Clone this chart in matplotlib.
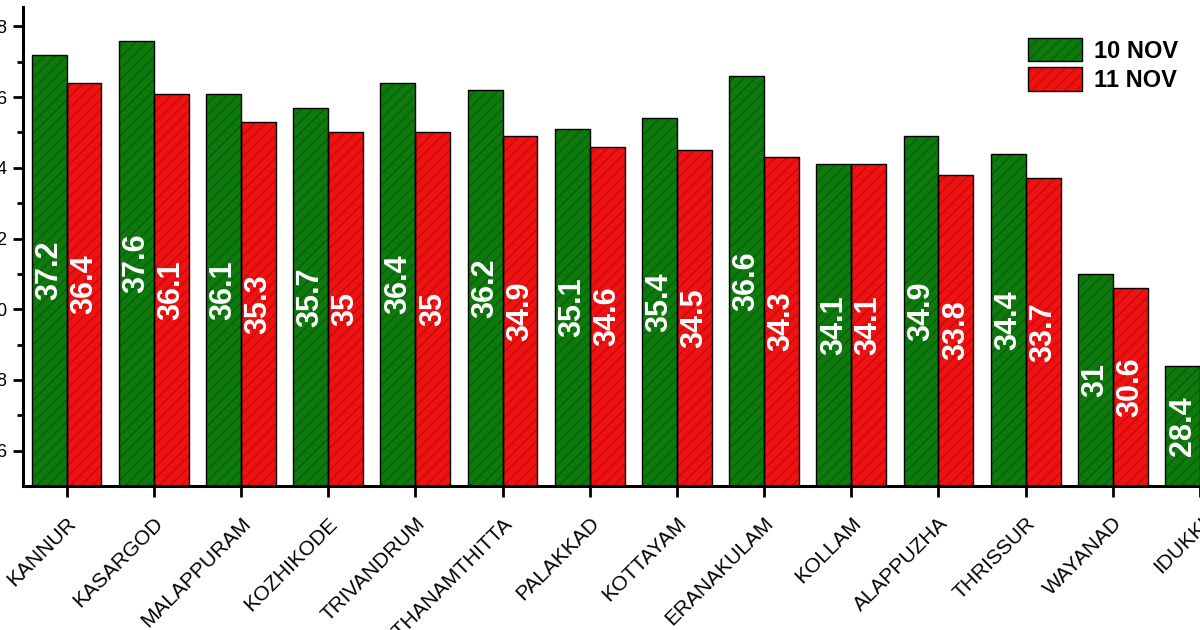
import numpy as np
import matplotlib
matplotlib.use("Agg")
import matplotlib.pyplot as plt
from matplotlib.legend_handler import HandlerTuple

districts = ["KANNUR", "KASARGOD", "MALAPPURAM", "KOZHIKODE", "TRIVANDRUM",
             "PATHANAMTHITTA", "PALAKKAD", "KOTTAYAM", "ERANAKULAM", "KOLLAM",
             "ALAPPUZHA", "THRISSUR", "WAYANAD", "IDUKKI"]
nov10 = [37.2, 37.6, 36.1, 35.7, 36.4, 36.2, 35.1, 35.4, 36.6, 34.1, 34.9, 34.4, 31.0, 28.4]
nov11 = [36.4, 36.1, 35.3, 35.0, 35.0, 34.9, 34.6, 34.5, 34.3, 34.1, 33.8, 33.7, 30.6, np.nan]
series_names = ["10 NOV", "11 NOV"]
yticks = [26, 28, 30, 32, 34, 36, 38]

plt.rcParams['font.family'] = ['Liberation Sans', 'DejaVu Sans']
plt.rcParams['hatch.linewidth'] = 1.0

green, green_h = "#0E7A0E", "#086008"
red, red_h = "#EE1212", "#C80A0A"

fig = plt.figure(figsize=(12, 6.3), dpi=100)
ax = fig.add_axes([23/1200, (630-486)/630, (1243.6-23)/1200, (486-7)/630])

x = np.arange(len(districts))
w = 0.4

def draw(xpos, vals, fc, hc):
    fill = ax.bar(xpos, vals, w, bottom=0, color=fc, edgecolor=hc, linewidth=0,
                  hatch='///', zorder=2)
    edge = ax.bar(xpos, vals, w, fill=False, edgecolor='black', linewidth=1.0, zorder=3)
    return fill, edge

ax.set_ylim(25, 38.55)
f1, e1 = draw(x - w/2, nov10, green, green_h)
f2, e2 = draw(x + w/2, nov11, red, red_h)

ymin = 25
for xs, vals in ((x - w/2, nov10), (x + w/2, nov11)):
    for xi, v in zip(xs, vals):
        if np.isnan(v):
            continue
        ax.text(xi, (ymin + v) / 2, f"{v:g}", rotation=90, ha='center', va='center',
                color='white', fontsize=22, fontweight='bold', zorder=4)

# bars start from axis bottom
for b in list(f1) + list(e1) + list(f2) + list(e2):
    h = b.get_height()
    b.set_y(ymin)
    b.set_height(h - ymin)

ax.set_xlim(-0.5, len(districts) - 0.5)
ax.set_xticks(x)
ax.set_xticklabels(districts, rotation=45, ha='right', va='top',
                   rotation_mode='anchor', fontsize=15)
ax.set_yticks(yticks)
ax.set_yticks([t + 1 for t in yticks[:-1]] , minor=True)
ax.tick_params(axis='y', labelsize=13, width=2, length=7.5, pad=4)
ax.tick_params(axis='y', which='minor', width=2, length=4)
ax.tick_params(axis='x', width=2, length=8, pad=12)

for s in ('top', 'right'):
    ax.spines[s].set_visible(False)
for s in ('left', 'bottom'):
    ax.spines[s].set_linewidth(2.2)

ax.legend([(f1[0], e1[0]), (f2[0], e2[0])], series_names,
          handler_map={tuple: HandlerTuple(ndivide=1)},
          loc='upper left', bbox_to_anchor=(1028/1200, 1 - 38/630),
          bbox_transform=fig.transFigure, frameon=False,
          prop={'size': 17, 'weight': 'bold'}, handlelength=2.3,
          handleheight=1.15, handletextpad=0.5, labelspacing=0.2,
          borderpad=0, borderaxespad=0)

fig.savefig("out.png", dpi=100)
